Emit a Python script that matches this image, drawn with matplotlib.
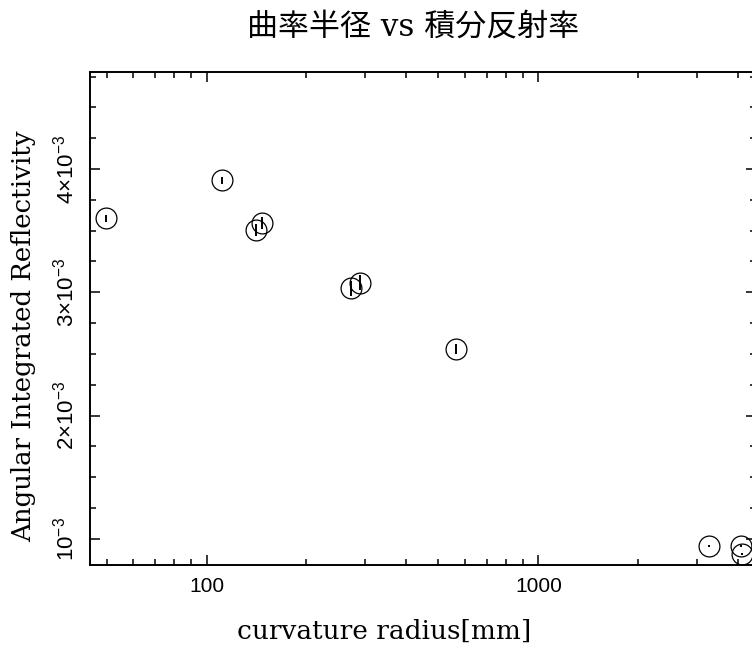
#!/usr/bin/env python3
import numpy as np
import matplotlib
matplotlib.use('Agg')
import matplotlib.pyplot as plt
from matplotlib import ticker

# curvature radius [mm] and angular integrated reflectivity
radius = [49.7, 111.6, 140.6, 146.8, 272.6, 290.7, 565, 3280, 4070, 4120]
refl   = [3.60e-3, 3.908e-3, 3.505e-3, 3.56e-3, 3.032e-3, 3.078e-3, 2.543e-3,
          0.943e-3, 0.943e-3, 0.878e-3]
refl_err = [0.03e-3, 0.03e-3, 0.05e-3, 0.05e-3, 0.06e-3, 0.06e-3, 0.04e-3,
            0.008e-3, 0.008e-3, 0.008e-3]

title  = '曲率半径 vs 積分反射率'
xlabel = 'curvature radius[mm]'
ylabel = 'Angular Integrated Reflectivity'

plt.rcParams['font.family'] = ['Liberation Sans', 'DejaVu Sans']
plt.rcParams['mathtext.fontset'] = 'custom'
plt.rcParams['mathtext.rm'] = 'Liberation Sans'
plt.rcParams['mathtext.it'] = 'Liberation Sans'
plt.rcParams['mathtext.bf'] = 'Liberation Sans'

fig = plt.figure(figsize=(7.52, 6.45), dpi=100)
ax = fig.add_axes([90/752, 1-565/645, 666/752, (565-71.7)/645])

ax.errorbar(radius, refl, yerr=refl_err, fmt='none', ecolor='black',
            elinewidth=1.4, capsize=0)
ax.plot(radius, refl, 'o', ms=15, mfc='none', mec='black', mew=0.9)

ax.set_xscale('log')
ax.set_xlim(44.5, 4532)
ax.set_ylim(0.789e-3, 4.789e-3)

ax.xaxis.set_major_locator(ticker.LogLocator(base=10))
ax.xaxis.set_minor_locator(ticker.LogLocator(base=10, subs=np.arange(2, 10)))
ax.xaxis.set_major_formatter(ticker.FuncFormatter(lambda v, p: '%d' % v))
ax.xaxis.set_minor_formatter(ticker.NullFormatter())

ax.yaxis.set_major_locator(ticker.MultipleLocator(1e-3))
ax.yaxis.set_minor_locator(ticker.MultipleLocator(0.25e-3))

def yfmt(v, p):
    k = int(round(v * 1e3))
    if k == 1:
        return r'$10^{-3}$'
    return r'$%d{\times}10^{-3}$' % k
ax.yaxis.set_major_formatter(ticker.FuncFormatter(yfmt))

for s in ax.spines.values():
    s.set_linewidth(1.4)
ax.tick_params(which='both', direction='in', top=True, right=True, width=1.1)
ax.tick_params(which='major', length=7, pad=8.5, labelsize=15)
ax.tick_params(which='minor', length=4)
ax.tick_params(axis='y', which='major', labelsize=16, labelrotation=90, pad=8)
for lab in ax.get_yticklabels():
    lab.set_va('center')

fig.text(413/752, 1-27/645, title, ha='center', va='center', fontsize=22.3,
         family=['DejaVu Serif', 'Noto Sans CJK JP'])
fig.text(384/752, 1-631/645, xlabel, ha='center', va='center', fontsize=19,
         family='DejaVu Serif')
fig.text(24/752, 1-336/645, ylabel, ha='center', va='center', fontsize=18.7,
         family='DejaVu Serif', rotation=90)

fig.savefig('out.png', dpi=100)
